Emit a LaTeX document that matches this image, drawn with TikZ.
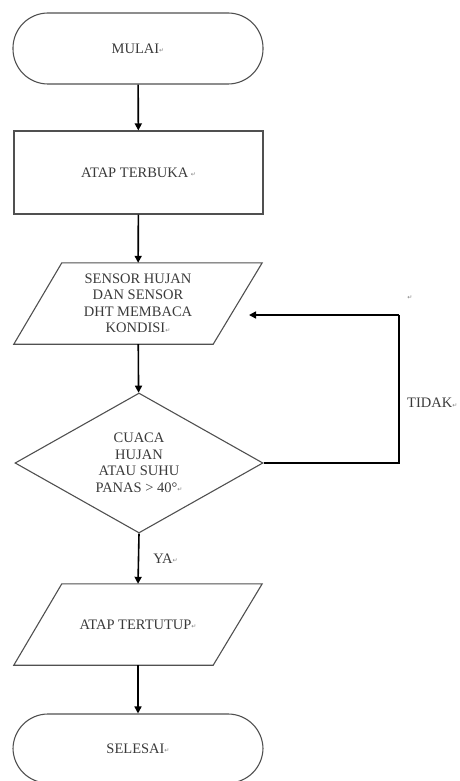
\documentclass[tikz,border=0pt]{standalone}
\usepackage{fontspec}
\setmainfont{Liberation Serif}
\newfontfamily\dejavu{DejaVu Sans}
\usetikzlibrary{shapes.geometric,arrows.meta,calc}
\definecolor{txt}{HTML}{3A3A3A}
\definecolor{edge}{HTML}{505050}
\newcommand\parmk{{\dejavu\fontsize{6}{6}\selectfont\color{gray}\raisebox{0.15ex}{↵}}}
\tikzset{
  lbl/.style={font=\fontsize{14.5}{16.5}\selectfont, text=txt, align=center},
  terminal/.style={lbl, draw=edge, line width=1.1pt, rounded corners=35pt, minimum width=250pt, minimum height=71pt, inner sep=0pt},
  process/.style={lbl, draw=edge, line width=1.1pt, minimum width=249pt, minimum height=83pt, inner sep=0pt},
  iobox/.style={lbl, minimum width=248pt, minimum height=81pt, inner sep=0pt},
  decision/.style={lbl, diamond, draw=edge, line width=1.1pt, aspect=1.77, minimum width=248pt, minimum height=140pt, inner sep=0pt},
  outline/.style={draw=edge, line width=1.1pt},
  flow/.style={line width=1.6pt, black, -{Triangle[length=7pt,width=7pt]}},
  note/.style={font=\fontsize{14.5}{16.5}\selectfont, text=txt, inner sep=0pt}
}
\begin{document}
\begin{tikzpicture}[x=1pt,y=-1pt]
\useasboundingbox (0,0) rectangle (459,781);
\node[terminal] (start) at (138,48.5) {MULAI\parmk};
\node[process] (open) at (138.5,172.5) {ATAP TERBUKA\,\parmk};
\node[iobox] (sense) at (138,303.5) {SENSOR HUJAN\\DAN SENSOR\\DHT MEMBACA\\KONDISI\parmk};
\draw[outline] (sense.south west) -- ($(sense.north west)+(48,0)$) -- (sense.north east) -- ($(sense.south east)-(49,0)$) -- cycle;
\node[decision] (dec) at (139,463) {CUACA\\HUJAN\\ATAU SUHU\\PANAS > 40°\parmk};
\node[iobox] (close) at (138,624.5) {ATAP TERTUTUP\parmk};
\draw[outline] (close.south west) -- ($(close.north west)+(48,0)$) -- (close.north east) -- ($(close.south east)-(49,0)$) -- cycle;
\node[terminal, minimum height=69pt] (stop) at (138,748.5) {SELESAI\parmk};
\coordinate (corner) at (399,315);
\coordinate (back) at (249,315);
\draw[flow] (start) -- (open);
\draw[flow] (open) -- (sense);
\draw[flow] (sense) -- (dec);
\draw[flow] (dec.south) -- node[note, anchor=west, xshift=14pt] (ya) {YA\parmk} (close.north);
\draw[flow] (close) -- (stop);
\draw[line width=1.6pt, black] (dec.east) -- (dec.east -| corner) -- (corner);
\draw[flow] (corner) -- (back);
\node[note, anchor=west] (tidak) at (407,403) {TIDAK\parmk};
\node[inner sep=0pt] (mark) at (410,298) {\parmk};
\end{tikzpicture}
\end{document}
